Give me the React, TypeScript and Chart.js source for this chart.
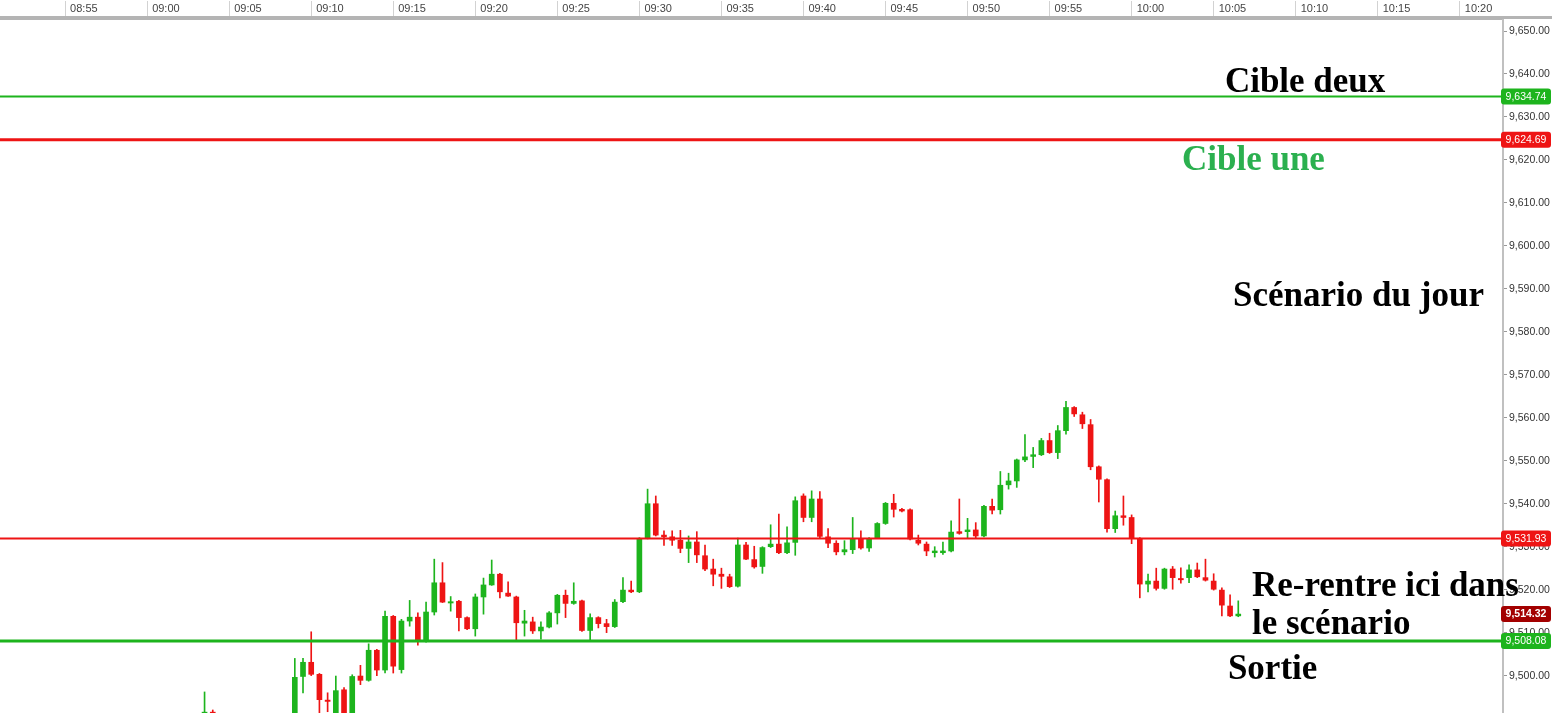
import React, { useEffect, useRef } from 'react';
import { Chart, registerables } from 'chart.js';
Chart.register(...registerables);

// 30-second candles, first visible bar at 09:03:30 (null = bar hidden below the view)
const FIRST_BAR = '09:03:30';
const BAR_SECONDS = 30;

const opens = [
  9488, 9491.5,
  null, null, null, null, null, null, null, null, null,
  9489, 9499.8, 9503.1, 9500.3, 9494.3, 9489, 9496.7, 9489, 9499.9, 9498.9,
  9505.9, 9501.3, 9513.8, 9501.4, 9512.7, 9513.6, 9508.0, 9514.8, 9521.6, 9516.9,
  9517.3, 9513.5, 9510.9, 9518.3, 9521.1, 9523.6, 9519.2, 9518.3, 9512.2, 9512.5,
  9510.4, 9511.3, 9514.6, 9518.7, 9516.8, 9517.4, 9510.5, 9513.5, 9512.1, 9511.4,
  9517.2, 9519.9, 9519.5, 9532.0, 9540.0, 9532.7, 9532.3, 9531.5, 9529.6, 9531.1,
  9527.9, 9524.8, 9523.6, 9523.0, 9520.8, 9530.4, 9527.0, 9525.4, 9530.0, 9530.6,
  9528.6, 9531.0, 9541.8, 9536.8, 9541.1, 9532.3, 9530.8, 9528.8, 9529.3, 9531.9,
  9529.7, 9532.1, 9535.4, 9540.1, 9538.7, 9538.6, 9531.5, 9530.6, 9528.6, 9528.6,
  9529.0, 9533.5, 9533.5, 9533.9, 9532.5, 9539.4, 9538.6, 9544.4, 9545.3, 9550.2,
  9551.0, 9551.4, 9554.7, 9551.9, 9557.0, 9562.4, 9560.7, 9558.4, 9548.6, 9545.6,
  9534.2, 9537.2, 9536.8, 9531.9, 9521.3, 9522.0, 9520.3, 9524.8, 9522.6, 9522.8,
  9524.6, 9522.8, 9522.0, 9519.9, 9516.2, 9513.9,
];
const highs = [
  9496.2, 9492,
  null, null, null, null, null, null, null, null, null,
  9504.0, 9504.0, 9510.2, 9500.5, 9496.0, 9499.9, 9497.2, 9500.2, 9502.4, 9507.4,
  9506.1, 9515.0, 9514.0, 9513.1, 9517.5, 9514.6, 9517.1, 9527.1, 9526.3, 9518.4,
  9517.5, 9513.7, 9519.0, 9522.7, 9526.9, 9523.8, 9521.8, 9518.5, 9515.2, 9513.6,
  9512.5, 9514.9, 9518.9, 9519.9, 9521.6, 9517.6, 9514.4, 9513.7, 9513.1, 9517.7,
  9522.8, 9522.0, 9532.1, 9543.4, 9541.8, 9533.7, 9533.7, 9533.8, 9532.5, 9533.5,
  9530.4, 9527.1, 9525.0, 9523.6, 9532.0, 9531.0, 9530.1, 9530.0, 9535.1, 9537.6,
  9534.6, 9541.6, 9542.3, 9543.0, 9542.8, 9534.2, 9531.4, 9531.4, 9536.8, 9533.7,
  9532.1, 9535.6, 9540.3, 9542.2, 9538.9, 9538.8, 9532.7, 9531.1, 9530.0, 9531.1,
  9536.0, 9541.1, 9536.6, 9535.6, 9539.6, 9541.1, 9547.5, 9547.1, 9550.4, 9556.1,
  9553.1, 9555.2, 9556.4, 9558.2, 9563.8, 9562.6, 9561.3, 9559.6, 9548.8, 9545.8,
  9538.3, 9541.8, 9537.4, 9532.1, 9523.6, 9525.0, 9525.0, 9525.4, 9525.1, 9525.8,
  9526.2, 9527.1, 9523.7, 9520.4, 9518.8, 9517.4,
];
const lows = [
  9487, 9488,
  null, null, null, null, null, null, null, null, null,
  9488, 9496.0, 9500.0, 9489, 9491.6, 9488, 9488, 9488, 9497.9, 9498.7,
  9500.0, 9500.6, 9500.6, 9500.6, 9511.5, 9507.1, 9507.8, 9514.1, 9517.0, 9515.0,
  9510.4, 9510.7, 9509.2, 9514.3, 9521.0, 9518.1, 9518.4, 9508.0, 9509.2, 9509.8,
  9508.5, 9511.1, 9512.0, 9513.5, 9516.6, 9510.3, 9508.0, 9511.1, 9510.0, 9511.2,
  9517.0, 9519.3, 9519.3, 9531.8, 9532.5, 9530.3, 9530.3, 9528.6, 9526.3, 9526.3,
  9524.4, 9520.9, 9520.3, 9520.5, 9520.6, 9527.0, 9525.0, 9523.8, 9529.8, 9528.4,
  9528.4, 9528.0, 9535.8, 9535.8, 9531.9, 9529.8, 9528.1, 9528.1, 9528.4, 9529.4,
  9528.9, 9531.9, 9535.2, 9536.9, 9538.1, 9531.6, 9530.4, 9527.9, 9527.6, 9528.2,
  9528.8, 9532.9, 9532.0, 9531.9, 9532.3, 9537.6, 9537.6, 9543.4, 9543.8, 9549.8,
  9548.4, 9551.2, 9551.7, 9550.5, 9556.2, 9560.3, 9557.5, 9547.9, 9540.4, 9533.4,
  9533.3, 9535.0, 9530.7, 9518.1, 9519.5, 9519.9, 9520.1, 9520.1, 9521.5, 9521.6,
  9522.8, 9522.0, 9519.9, 9513.9, 9513.7, 9513.7,
];
const closes = [
  9491.5, 9489,
  null, null, null, null, null, null, null, null, null,
  9499.6, 9503.1, 9500.3, 9494.4, 9494.0, 9496.5, 9489, 9499.8, 9498.9, 9505.9,
  9501.3, 9513.8, 9502.2, 9512.7, 9513.6, 9508.0, 9514.8, 9521.6, 9517.1, 9517.2,
  9513.5, 9510.9, 9518.3, 9521.1, 9523.6, 9519.5, 9518.5, 9512.3, 9512.7, 9510.4,
  9511.3, 9514.6, 9518.7, 9516.8, 9517.3, 9510.5, 9513.5, 9512.1, 9511.4, 9517.1,
  9519.9, 9519.5, 9531.8, 9540.0, 9532.7, 9532.3, 9531.5, 9529.6, 9531.1, 9528.1,
  9524.8, 9523.6, 9523.1, 9520.7, 9530.4, 9527.1, 9525.3, 9529.8, 9530.6, 9528.6,
  9530.9, 9540.7, 9536.8, 9541.1, 9532.4, 9530.8, 9528.8, 9529.3, 9531.9, 9529.7,
  9531.9, 9535.4, 9540.1, 9538.7, 9538.3, 9531.8, 9530.8, 9529.0, 9529.0, 9529.0,
  9533.4, 9533.1, 9533.9, 9532.5, 9539.4, 9538.5, 9544.3, 9545.3, 9550.2, 9550.9,
  9551.4, 9554.7, 9551.9, 9557.0, 9562.4, 9560.9, 9558.6, 9548.6, 9545.7, 9534.2,
  9537.2, 9536.8, 9532.1, 9521.3, 9522.0, 9520.3, 9524.8, 9522.8, 9522.3, 9524.6,
  9523.0, 9522.2, 9520.1, 9516.4, 9513.9, 9514.32,
];

// Horizontal levels
const levelValues = [9634.74, 9624.69, 9531.93, 9508.08];
const levelKinds = ['up', 'down', 'down', 'up'];
const LAST_PRICE = 9514.32;

// Text notes (time, price of baseline)
const noteTexts = ['Cible deux', 'Cible une', 'Scénario du jour', 'Re-rentre ici dans', 'le scénario', 'Sortie'];
const noteTimes = ['10:05:41', '10:03:04', '10:06:11', '10:07:20', '10:07:20', '10:05:52'];
const notePrices = [9635.8, 9617.6, 9585.9, 9518.5, 9509.6, 9499.2];
const noteIsGreen = [false, true, false, false, false, false];

// Axis ranges
const X_MIN = '08:51:02';
const X_MAX = '10:22:38';
const X_STEP_MIN = 5;
const Y_MIN = 9491.3;
const Y_MAX = 9653.03;
const Y_STEP = 10;

const GREEN = '#1db41d';
const RED = '#ee1414';
const DARK_RED = '#a30000';
const TEXT_GREEN = '#2bb04f';

function toMinutes(t: string): number {
  const [h, m, s] = t.split(':').map(Number);
  return h * 60 + m + (s || 0) / 60;
}
function fmtTime(v: number): string {
  const h = Math.floor(v / 60);
  const m = Math.round(v - h * 60);
  return String(h).padStart(2, '0') + ':' + String(m).padStart(2, '0');
}
function fmtPrice(v: number): string {
  return Number(v).toLocaleString('en-US', { minimumFractionDigits: 2, maximumFractionDigits: 2 });
}

export default function App() {
  const ref = useRef<HTMLCanvasElement>(null);
  useEffect(() => {
    document.body.style.margin = '0';
    const start = toMinutes(FIRST_BAR);
    const bodies: any[] = [];
    const wicks: any[] = [];
    const colors: string[] = [];
    for (let k = 0; k < opens.length; k++) {
      const o = opens[k], h = highs[k], l = lows[k], c = closes[k];
      if (o == null || h == null || l == null || c == null) continue;
      const x = start + (k * BAR_SECONDS) / 60;
      bodies.push({ x, y: [Math.min(o, c), Math.max(o, c)] });
      wicks.push({ x, y: [l, h] });
      colors.push(c >= o ? GREEN : RED);
    }

    const overlay = {
      id: 'overlay',
      afterDatasetsDraw(chart: any) {
        const { ctx, chartArea } = chart;
        const ys = chart.scales.y;
        ctx.save();
        levelValues.forEach((v, i) => {
          const y = ys.getPixelForValue(v);
          ctx.strokeStyle = levelKinds[i] === 'up' ? GREEN : RED;
          ctx.lineWidth = i === 1 || i === 3 ? 3 : 2;
          ctx.beginPath();
          ctx.moveTo(chartArea.left, y);
          ctx.lineTo(chartArea.right, y);
          ctx.stroke();
        });
        ctx.restore();
      },
      afterDraw(chart: any) {
        const { ctx, chartArea, width } = chart;
        const ys = chart.scales.y;
        const xs = chart.scales.x;
        ctx.save();
        // top border across full width
        ctx.fillStyle = '#b4b4b4';
        ctx.fillRect(0, chartArea.top - 2, width, 3);

        const box = (v: number, bg: string, bold: boolean) => {
          const y = ys.getPixelForValue(v);
          const x0 = chartArea.right - 2;
          const w = width - x0 - 1;
          const hgt = 16;
          ctx.fillStyle = bg;
          ctx.beginPath();
          (ctx as any).roundRect(x0, y - hgt / 2, w, hgt, 3);
          ctx.fill();
          ctx.fillStyle = '#ffffff';
          ctx.font = (bold ? 'bold ' : '') + '10.5px "Liberation Sans"';
          ctx.textAlign = 'center';
          ctx.textBaseline = 'middle';
          ctx.fillText(fmtPrice(v), x0 + w / 2, y + 0.5);
        };
        levelValues.forEach((v, i) => box(v, levelKinds[i] === 'up' ? GREEN : RED, false));
        box(LAST_PRICE, DARK_RED, true);

        ctx.font = 'bold 35px "Liberation Serif"';
        ctx.textAlign = 'left';
        ctx.textBaseline = 'alphabetic';
        noteTexts.forEach((t, i) => {
          ctx.fillStyle = noteIsGreen[i] ? TEXT_GREEN : '#000000';
          ctx.fillText(t, xs.getPixelForValue(toMinutes(noteTimes[i])), ys.getPixelForValue(notePrices[i]));
        });
        ctx.restore();
      },
    };

    const chart = new Chart(ref.current!, {
      type: 'bar',
      data: {
        datasets: [
          {
            label: 'body',
            data: bodies,
            backgroundColor: colors,
            barThickness: 5,
            grouped: false,
            minBarLength: 1,
            borderWidth: 0,
            order: 0,
          } as any,
          {
            label: 'wick',
            data: wicks,
            backgroundColor: colors,
            barThickness: 1,
            grouped: false,
            borderWidth: 0,
            order: 1,
          } as any,
        ],
      },
      options: {
        animation: false,
        responsive: false,
        devicePixelRatio: 1,
        layout: { padding: 0, autoPadding: false } as any,
        plugins: { legend: { display: false }, tooltip: { enabled: false } },
        scales: {
          x: {
            type: 'linear',
            position: 'top',
            offset: false,
            min: toMinutes(X_MIN),
            max: toMinutes(X_MAX),
            ticks: {
              stepSize: X_STEP_MIN,
              includeBounds: false,
              autoSkip: false,
              maxRotation: 0,
              minRotation: 0,
              align: 'start',
              labelOffset: 5,
              padding: -15,
              color: '#444444',
              font: { family: 'Liberation Sans', size: 11 },
              callback: (v: any) => fmtTime(Number(v)),
            },
            grid: { offset: false, drawOnChartArea: false, drawTicks: true, tickLength: 17, color: '#d2d2d2', lineWidth: 1 },
            border: { display: true, color: '#b4b4b4', width: 3 },
            afterFit: (s: any) => {
              s.height = 18;
              s.paddingLeft = 0;
              s.paddingRight = 0;
              s.paddingTop = 0;
              s.paddingBottom = 0;
            },
          } as any,
          y: {
            type: 'linear',
            position: 'right',
            min: Y_MIN,
            max: Y_MAX,
            ticks: {
              stepSize: Y_STEP,
              includeBounds: false,
              color: '#333333',
              padding: 2,
              font: { family: 'Liberation Sans', size: 10.5 },
              callback: (v: any) => fmtPrice(Number(v)),
            },
            grid: { drawOnChartArea: false, tickLength: 4, color: '#999999' },
            border: { display: true, color: '#c0c0c0', width: 2 },
            afterFit: (s: any) => {
              s.width = 49;
              s.paddingLeft = 0;
              s.paddingRight = 0;
              s.paddingTop = 0;
              s.paddingBottom = 0;
            },
          } as any,
        },
      },
      plugins: [overlay],
    });
    return () => chart.destroy();
  }, []);

  return (
    <div style={{ width: 1552, height: 713, background: '#ffffff' }}>
      <canvas ref={ref} width={1552} height={713} style={{ display: 'block' }} />
    </div>
  );
}
